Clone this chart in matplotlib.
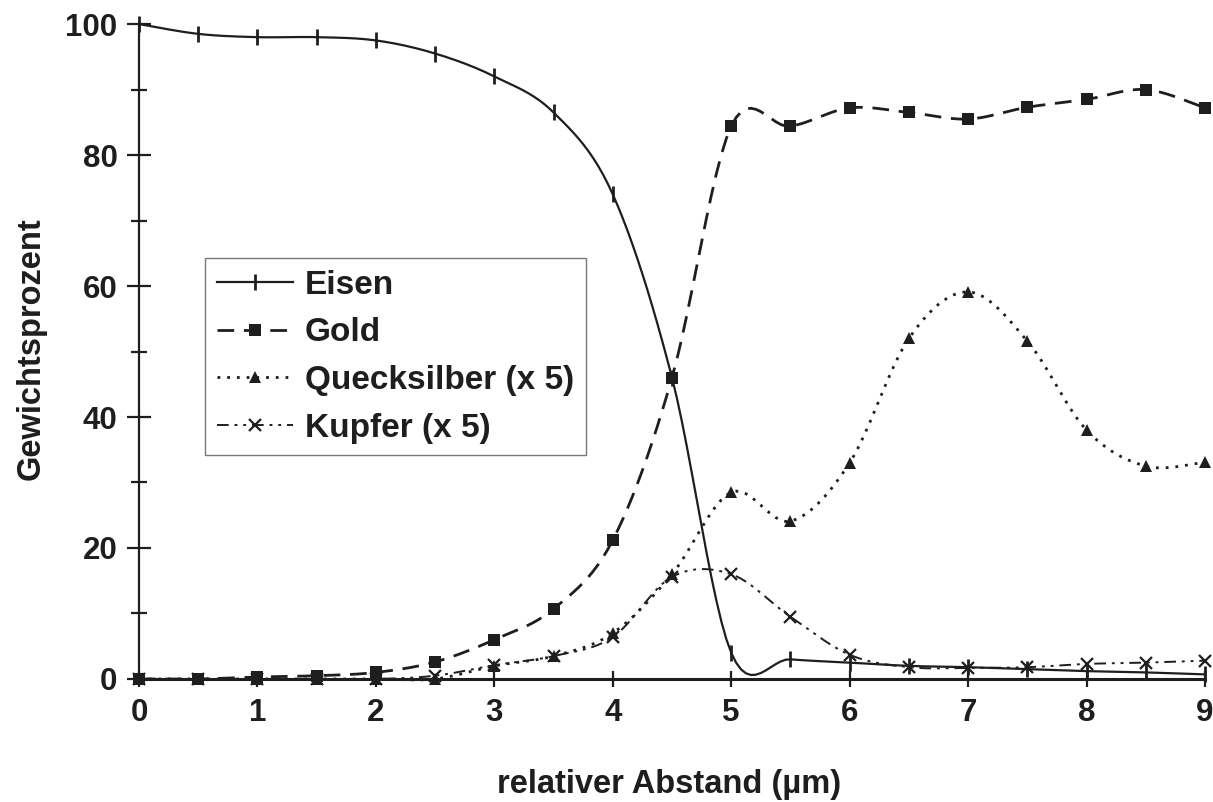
import numpy as np
import matplotlib.pyplot as plt
from matplotlib.ticker import MultipleLocator

plt.rcParams['font.family'] = ['Liberation Sans', 'DejaVu Sans']
plt.rcParams['font.weight'] = 'bold'
plt.rcParams['axes.labelweight'] = 'bold'

# Messpunkte (relativer Abstand in µm)
abstand = [0, 0.5, 1, 1.5, 2, 2.5, 3, 3.5, 4, 4.5,
           5, 5.5, 6, 6.5, 7, 7.5, 8, 8.5, 9]

eisen = [100, 98.5, 98, 98, 97.5, 95.5, 92, 86.5, 74, 46,
         4, 3, 2.5, 2, 1.8, 1.5, 1.2, 1.0, 0.7]
gold = [0, 0, 0.3, 0.5, 1, 2.6, 6, 10.7, 21.2, 46,
        84.4, 84.4, 87.2, 86.5, 85.5, 87.3, 88.5, 90, 87.2]
quecksilber = [0, 0, 0, 0, 0, 0, 2, 3.5, 7, 16,
               28.5, 24.1, 33, 52, 59.1, 51.6, 38, 32.5, 33.1]
kupfer = [0, 0, 0, 0, 0, 0.5, 2.1, 3.5, 6.4, 15.6,
          16, 9.5, 3.7, 1.8, 1.7, 1.8, 2.3, 2.5, 2.8]

labels = ['Eisen', 'Gold', 'Quecksilber (x 5)', 'Kupfer (x 5)']

STEPS = 12  # Zwischenschritte je Segment fuer die geglaettete Linie


def smooth(xs, ys, steps=STEPS):
    """Catmull-Rom-Glaettung wie bei Excel-Linien; Messpunkte bleiben erhalten."""
    x = np.asarray(xs, float)
    y = np.asarray(ys, float)
    px = np.concatenate([[x[0]], x, [x[-1]]])
    py = np.concatenate([[y[0]], y, [y[-1]]])
    t = np.linspace(0, 1, steps, endpoint=False)
    out_x, out_y = [], []
    for i in range(1, len(px) - 2):
        for p, out in ((px, out_x), (py, out_y)):
            p0, p1, p2, p3 = p[i - 1], p[i], p[i + 1], p[i + 2]
            out.extend(0.5 * (2 * p1 + (-p0 + p2) * t
                              + (2 * p0 - 5 * p1 + 4 * p2 - p3) * t ** 2
                              + (-p0 + 3 * p1 - 3 * p2 + p3) * t ** 3))
    out_x.append(x[-1])
    out_y.append(y[-1])
    return np.array(out_x), np.array(out_y)


fig = plt.figure(figsize=(12.13, 8.02), dpi=100)
ax = fig.add_axes([0.1146, 0.1534, 0.8788, 0.8166])

ink = '#1e1e1e'
styles = [
    dict(ls='-', lw=1.6, marker='|', ms=12, mew=2.0),
    dict(ls=(0, (6, 3.5)), lw=2.0, marker='s', ms=8.5, mew=0),
    dict(ls=(0, (1, 2.5)), lw=2.0, marker='^', ms=9, mew=0),
    dict(ls=(0, (6, 3, 1.5, 3, 1.5, 3)), lw=1.4, marker='x', ms=9, mew=1.6),
]

for ys, lab, st in zip([eisen, gold, quecksilber, kupfer], labels, styles):
    sx, sy = smooth(abstand, ys)
    ax.plot(sx, sy, color=ink, label=lab, markevery=STEPS,
            clip_on=False, zorder=3, **st)

ax.set_xlim(0, 9)
ax.set_ylim(0, 100)
ax.xaxis.set_major_locator(MultipleLocator(1))
ax.yaxis.set_major_locator(MultipleLocator(20))
ax.yaxis.set_minor_locator(MultipleLocator(10))

for s in ['top', 'right']:
    ax.spines[s].set_visible(False)
ax.spines['left'].set_linewidth(1.6)
ax.spines['bottom'].set_linewidth(2.2)
ax.spines['left'].set_color(ink)
ax.spines['bottom'].set_color(ink)

ax.tick_params(axis='both', which='both', direction='inout', color=ink,
               width=1.6, labelsize=22.5, labelcolor=ink)
ax.tick_params(axis='y', which='major', length=17, pad=7)
ax.tick_params(axis='y', which='minor', length=12)
ax.tick_params(axis='x', which='major', length=12, pad=8)

ax.set_xlabel('relativer Abstand (µm)', fontsize=23.5, fontweight='bold',
              color=ink)
ax.set_ylabel('Gewichtsprozent', fontsize=23.5, fontweight='bold',
              color=ink)
ax.xaxis.set_label_coords(0.497, -0.137)
ax.yaxis.set_label_coords(-0.087, 0.505)

leg = ax.legend(loc='upper left', bbox_to_anchor=(0.062, 0.643),
                fontsize=24, frameon=True, fancybox=False,
                handlelength=2.3, handletextpad=0.35, labelspacing=0.5,
                borderpad=0.35, borderaxespad=0)
leg.get_frame().set_edgecolor('#555555')
leg.get_frame().set_linewidth(1.0)
for t in leg.get_texts():
    t.set_color(ink)

fig.savefig('out.png', dpi=100)
